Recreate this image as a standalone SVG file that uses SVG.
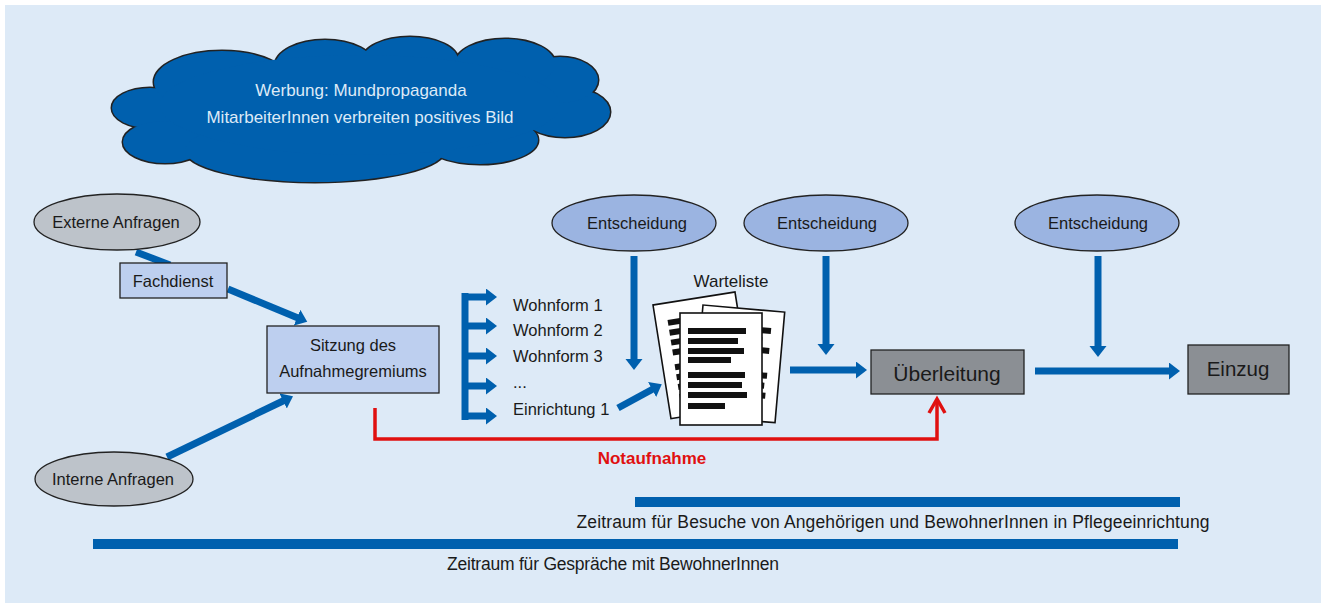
<svg xmlns="http://www.w3.org/2000/svg" width="1321" height="603" viewBox="0 0 1321 603">
<defs>
<style>
text{font-family:"Liberation Sans",Arial,sans-serif;font-size:16.5px;fill:#1a1a1a}
.c{text-anchor:middle;dominant-baseline:central}
.l{dominant-baseline:central}
.ell{stroke:#222;stroke-width:1.3}
.gray{fill:#BDC3CA}
.dec{fill:#9BB4E1}
.lb{fill:#BDCFEF;stroke:#222;stroke-width:1.3}
.dg{fill:#8B8F94;stroke:#222;stroke-width:1.3}
.arr{stroke:#0060AE;stroke-width:7;fill:none}
.page{fill:#fff;stroke:#111;stroke-width:1.6}
.bar{fill:#111}
</style>
<marker id="ah" markerUnits="userSpaceOnUse" markerWidth="13" markerHeight="18" refX="1" refY="8.5" orient="auto">
<path d="M0,0 L11,8.5 L0,17 z" fill="#0060AE"/>
</marker>
</defs>
<rect x="0" y="0" width="1321" height="603" fill="#fff"/>
<rect x="5" y="5" width="1316" height="598" fill="#DDEAF7"/>

<g id="cloud">
<g fill="#0060AE" stroke="#222" stroke-width="3">
<ellipse cx="150" cy="108" rx="38" ry="20"/>
<ellipse cx="165" cy="142" rx="42" ry="21"/>
<ellipse cx="315" cy="150" rx="130" ry="32"/>
<ellipse cx="480" cy="140" rx="58" ry="24"/>
<ellipse cx="565" cy="112" rx="45" ry="25"/>
<ellipse cx="560" cy="80" rx="38" ry="23"/>
<ellipse cx="505" cy="64" rx="50" ry="25"/>
<ellipse cx="410" cy="60" rx="48" ry="23"/>
<ellipse cx="325" cy="66" rx="50" ry="26"/>
<ellipse cx="222" cy="82" rx="68" ry="31"/>
</g>
<g fill="#0060AE">
<ellipse cx="150" cy="108" rx="38" ry="20"/>
<ellipse cx="165" cy="142" rx="42" ry="21"/>
<ellipse cx="315" cy="150" rx="130" ry="32"/>
<ellipse cx="480" cy="140" rx="58" ry="24"/>
<ellipse cx="565" cy="112" rx="45" ry="25"/>
<ellipse cx="560" cy="80" rx="38" ry="23"/>
<ellipse cx="505" cy="64" rx="50" ry="25"/>
<ellipse cx="410" cy="60" rx="48" ry="23"/>
<ellipse cx="325" cy="66" rx="50" ry="26"/>
<ellipse cx="222" cy="82" rx="68" ry="31"/>
<ellipse cx="360" cy="105" rx="200" ry="50"/>
</g>
<text class="c" x="361" y="90" style="fill:#DDEAF7;font-size:17px">Werbung: Mundpropaganda</text>
<text class="c" x="360" y="117" style="fill:#DDEAF7;font-size:17px">MitarbeiterInnen verbreiten positives Bild</text>
</g>

<g id="connectors">
<line class="arr" x1="136" y1="252" x2="170" y2="265"/>
<line class="arr" x1="228" y1="289" x2="298" y2="318" marker-end="url(#ah)"/>
<line class="arr" x1="167" y1="457" x2="284" y2="400.5" marker-end="url(#ah)"/>
<line class="arr" x1="465" y1="293" x2="465" y2="420"/>
<line class="arr" x1="462" y1="297" x2="487" y2="297" marker-end="url(#ah)"/>
<line class="arr" x1="462" y1="326" x2="487" y2="326" marker-end="url(#ah)"/>
<line class="arr" x1="462" y1="356" x2="487" y2="356" marker-end="url(#ah)"/>
<line class="arr" x1="462" y1="386" x2="487" y2="386" marker-end="url(#ah)"/>
<line class="arr" x1="462" y1="416" x2="487" y2="416" marker-end="url(#ah)"/>
<line class="arr" x1="618" y1="408" x2="653" y2="389" marker-end="url(#ah)"/>
<line class="arr" x1="634" y1="256" x2="634" y2="360" marker-end="url(#ah)"/>
<line class="arr" x1="826" y1="256" x2="826" y2="345" marker-end="url(#ah)"/>
<line class="arr" x1="790" y1="370" x2="857" y2="370" marker-end="url(#ah)"/>
<line class="arr" x1="1098" y1="256" x2="1098" y2="347" marker-end="url(#ah)"/>
<line class="arr" x1="1035" y1="371" x2="1170" y2="371" marker-end="url(#ah)"/>
<polyline points="375,408 375,439 937,439 937,400" fill="none" stroke="#E01010" stroke-width="3.5"/>
<polyline points="929,413 937,399 945,413" fill="none" stroke="#E01010" stroke-width="3.5" stroke-linejoin="miter"/>
</g>

<g id="externe">
<ellipse class="ell gray" cx="117" cy="222" rx="83" ry="28"/>
<text class="c" x="116" y="222">Externe Anfragen</text>
</g>
<g id="fachdienst">
<rect class="lb" x="120" y="263" width="107" height="35"/>
<text class="c" x="173" y="281">Fachdienst</text>
</g>
<g id="sitzung">
<rect class="lb" x="267" y="326" width="172" height="67"/>
<text class="c" x="353" y="345">Sitzung des</text>
<text class="c" x="353" y="371">Aufnahmegremiums</text>
</g>
<g id="interne">
<ellipse class="ell gray" cx="114" cy="479" rx="79" ry="27"/>
<text class="c" x="113" y="479">Interne Anfragen</text>
</g>

<g id="wohnformen">
<text class="l" x="513" y="305">Wohnform 1</text>
<text class="l" x="513" y="330">Wohnform 2</text>
<text class="l" x="513" y="356">Wohnform 3</text>
<text class="l" x="513" y="382">...</text>
<text class="l" x="513" y="409">Einrichtung 1</text>
</g>

<g id="entscheidung1">
<ellipse class="ell dec" cx="634" cy="223" rx="82" ry="28"/>
<text class="c" x="637" y="223">Entscheidung</text>
</g>
<g id="entscheidung2">
<ellipse class="ell dec" cx="826" cy="223" rx="82" ry="28"/>
<text class="c" x="827" y="223">Entscheidung</text>
</g>
<g id="entscheidung3">
<ellipse class="ell dec" cx="1097" cy="223" rx="82" ry="28"/>
<text class="c" x="1098" y="223">Entscheidung</text>
</g>

<g id="warteliste">
<text class="c" x="731" y="281" style="font-size:17px">Warteliste</text>
<g transform="translate(653,305) rotate(-9)">
<rect class="page" x="0" y="0" width="83" height="115"/>
<rect class="bar" x="12" y="17" width="58" height="6"/>
<rect class="bar" x="12" y="27" width="55" height="6"/>
<rect class="bar" x="12" y="37" width="58" height="6"/>
<rect class="bar" x="12" y="47" width="50" height="6"/>
<rect class="bar" x="12" y="62" width="58" height="6"/>
<rect class="bar" x="12" y="72" width="56" height="6"/>
<rect class="bar" x="12" y="82" width="58" height="6"/>
<rect class="bar" x="12" y="92" width="45" height="6"/>
</g>
<g transform="translate(703,305) rotate(5)">
<rect class="page" x="0" y="0" width="82" height="111"/>
<rect class="bar" x="12" y="17" width="58" height="6"/>
<rect class="bar" x="12" y="27" width="50" height="6"/>
<rect class="bar" x="12" y="37" width="58" height="6"/>
<rect class="bar" x="12" y="47" width="50" height="6"/>
<rect class="bar" x="12" y="62" width="58" height="6"/>
<rect class="bar" x="12" y="72" width="56" height="6"/>
<rect class="bar" x="12" y="82" width="58" height="6"/>
<rect class="bar" x="12" y="92" width="45" height="6"/>
</g>
<rect class="page" x="680" y="313" width="82" height="112"/>
<rect class="bar" x="688" y="328" width="58" height="6"/>
<rect class="bar" x="688" y="338" width="50" height="6"/>
<rect class="bar" x="688" y="348" width="56" height="6"/>
<rect class="bar" x="688" y="357" width="43" height="6"/>
<rect class="bar" x="688" y="372" width="57" height="6"/>
<rect class="bar" x="688" y="382" width="54" height="6"/>
<rect class="bar" x="688" y="392" width="59" height="6"/>
<rect class="bar" x="688" y="403" width="37" height="6"/>
</g>

<g id="ueberleitung">
<rect class="dg" x="871" y="350" width="153" height="44"/>
<text class="c" x="947" y="373" style="font-size:21px">Überleitung</text>
</g>
<g id="einzug">
<rect class="dg" x="1188" y="345" width="101" height="49"/>
<text class="c" x="1238" y="368" style="font-size:20.5px">Einzug</text>
</g>

<g id="notaufnahme">
<text class="c" x="652" y="458" style="fill:#E01010;font-weight:bold;font-size:17px">Notaufnahme</text>
</g>

<g id="zeitraeume">
<rect x="635" y="497" width="545" height="10" fill="#0060AE"/>
<text class="c" x="893" y="522" textLength="633" style="font-size:17.5px">Zeitraum für Besuche von Angehörigen und BewohnerInnen in Pflegeeinrichtung</text>
<rect x="93" y="539" width="1085" height="10" fill="#0060AE"/>
<text class="c" x="613" y="564" textLength="332" style="font-size:17.5px">Zeitraum für Gespräche mit BewohnerInnen</text>
</g>
</svg>
